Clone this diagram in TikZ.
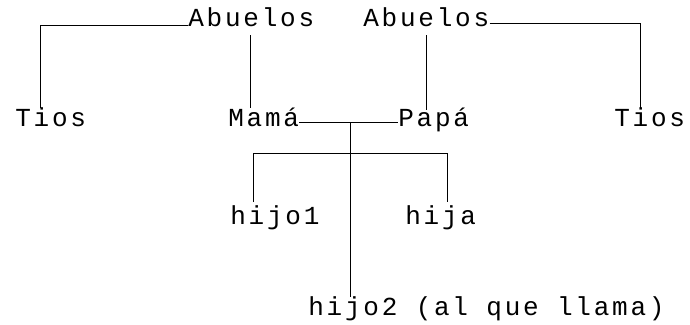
\documentclass[tikz,border=0pt]{standalone}
\usepackage{fontspec}
\newfontfamily\matriz{Liberation Mono}[LetterSpace=10.6]
\begin{document}
\begin{tikzpicture}[x=1pt,y=-1pt,line width=0.8pt,
  lbl/.style={anchor=base west,inner sep=0pt,font=\matriz\fontsize{26}{28}\selectfont}]
\useasboundingbox (0,0) rectangle (690,324);
\node[lbl] (ab1) at (188,27) {Abuelos};
\node[lbl] (ab2) at (363,27) {Abuelos};
\node[lbl] (tios1) at (15,126) {Tios};
\node[lbl] (mama) at (228,126) {Mamá};
\node[lbl] (papa) at (398,126) {Papá};
\node[lbl] (tios2) at (614,126) {Tios};
\node[lbl] (hijo1) at (230,224) {hijo1};
\node[lbl] (hija) at (405,224) {hija};
\node[lbl] (hijo2) at (308,315) {hijo2 (al que llama)};
\coordinate (pareja) at (350,122);
\draw ([shift={(0,-2)}]ab1.base west) -| ([shift={(25,-18)}]tios1.base west);
\draw ([shift={(0,-4)}]ab2.base east) -| ([shift={(26,-18)}]tios2.base west);
\draw ([shift={(62,8)}]ab1.base west) -- ([shift={(22,-18)}]mama.base west);
\draw ([shift={(63,8)}]ab2.base west) -- ([shift={(28,-16)}]papa.base west);
\draw ([shift={(0,-4)}]mama.base east) -- ([shift={(0,-4)}]papa.base west);
\draw (pareja) -- ([shift={(42,-18)}]hijo2.base west);
\draw ([shift={(23,-22)}]hijo1.base west) |- ([shift={(42,-71)}]hija.base west) -- ([shift={(42,-22)}]hija.base west);
\end{tikzpicture}
\end{document}
